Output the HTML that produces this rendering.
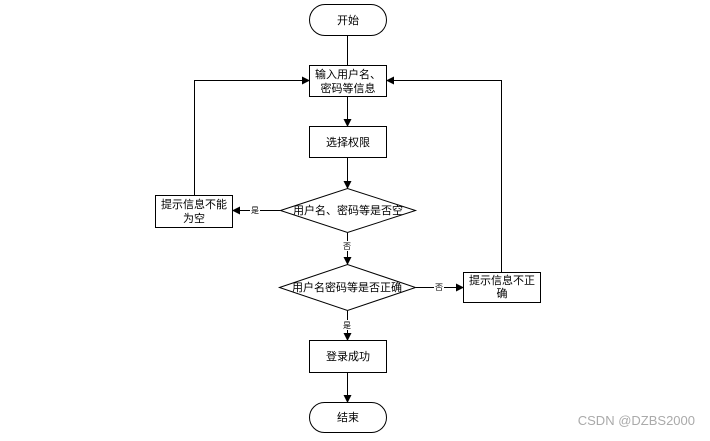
<!DOCTYPE html>
<html><head><meta charset="utf-8"><style>
html,body{margin:0;padding:0;background:#fff;}
svg text{font-family:"Liberation Sans","Noto Sans CJK SC",sans-serif;}
</style></head><body>
<svg width="710" height="436" viewBox="0 0 710 436" xmlns="http://www.w3.org/2000/svg">
<defs><marker id="a" markerWidth="8" markerHeight="8" refX="7" refY="4" orient="auto" markerUnits="userSpaceOnUse"><path d="M0,0 L8,4 L0,8 z" fill="#000"/></marker></defs>
<g fill="none" stroke="#000" stroke-width="1">
<rect x="309.5" y="4.5" width="77" height="31" rx="15.5" ry="15.5"/>
<rect x="309.5" y="65.5" width="77" height="31"/>
<rect x="309.5" y="126.5" width="77" height="31"/>
<polygon points="280.5,210.5 347.5,188.5 415.5,210.5 347.5,232.5"/>
<rect x="155.5" y="195.5" width="77" height="32"/>
<polygon points="279.5,287.5 347.5,264.5 415.5,287.5 347.5,310.5"/>
<rect x="463.5" y="272.5" width="77" height="30"/>
<rect x="309.5" y="340.5" width="77" height="32"/>
<rect x="309.5" y="402.5" width="77" height="30" rx="15" ry="15"/>
<line x1="347.5" y1="35" x2="347.5" y2="65"/>
<line x1="347.5" y1="97" x2="347.5" y2="126" marker-end="url(#a)"/>
<line x1="347.5" y1="158" x2="347.5" y2="188" marker-end="url(#a)"/>
<line x1="280" y1="210.5" x2="233" y2="210.5" marker-end="url(#a)"/>
<polyline points="194.5,195 194.5,80.5 309,80.5" marker-end="url(#a)"/>
<line x1="347.5" y1="233" x2="347.5" y2="264" marker-end="url(#a)"/>
<line x1="416" y1="287.5" x2="463" y2="287.5" marker-end="url(#a)"/>
<polyline points="501.5,272 501.5,80.5 387,80.5" marker-end="url(#a)"/>
<line x1="347.5" y1="311" x2="347.5" y2="340" marker-end="url(#a)"/>
<line x1="347.5" y1="373" x2="347.5" y2="402" marker-end="url(#a)"/>
</g>
<g font-size="11" fill="#000" text-anchor="middle">
<text x="348" y="24">开始</text>
<text x="348" y="78">输入用户名、</text>
<text x="348" y="92">密码等信息</text>
<text x="348" y="146">选择权限</text>
<text x="348" y="214">用户名、密码等是否空</text>
<text x="194" y="208">提示信息不能</text>
<text x="194" y="222">为空</text>
<text x="347" y="291">用户名密码等是否正确</text>
<text x="502" y="284">提示信息不正</text>
<text x="502" y="297">确</text>
<text x="348" y="360">登录成功</text>
<text x="348" y="421">结束</text>
</g>
<g font-size="8" fill="#000" text-anchor="middle">
<rect x="250" y="205" width="10" height="10" fill="#fff"/><text x="255" y="213">是</text>
<rect x="342" y="241" width="10" height="10" fill="#fff"/><text x="347" y="249">否</text>
<rect x="434" y="282" width="10" height="10" fill="#fff"/><text x="439" y="290">否</text>
<rect x="342" y="320" width="10" height="10" fill="#fff"/><text x="347" y="328">是</text>
</g>
<text x="695" y="425" font-size="13" fill="#aaa" text-anchor="end">CSDN @DZBS2000</text>
</svg>
</body></html>
